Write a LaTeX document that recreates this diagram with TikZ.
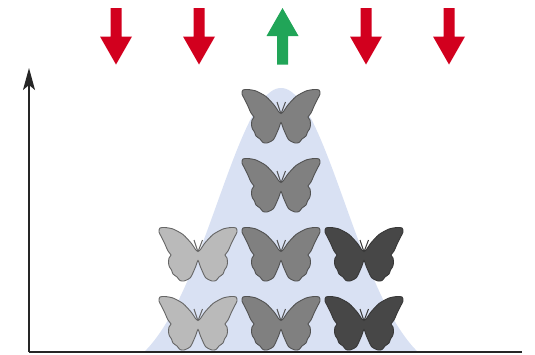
\documentclass[tikz,border=0pt]{standalone}
\usepackage{tikz}
\usetikzlibrary{arrows.meta,positioning,calc}
\definecolor{bellblue}{HTML}{D9E1F3}
\definecolor{downred}{HTML}{D2001E}
\definecolor{upgreen}{HTML}{21A558}
\tikzstyle{axis}=[draw=black!85,line width=1.4pt]
\tikzstyle{lightwing}=[fill=black!27,draw=black!60,line width=0.9pt]
\tikzstyle{midwing}=[fill=black!50,draw=black!68,line width=0.9pt]
\tikzstyle{darkwing}=[fill=black!72,draw=black!78,line width=0.9pt]
\tikzset{
  butterfly/.pic={
    \path[pic actions] plot[smooth cycle,tension=0.4] coordinates {
      (0,0.5) (2.5,-1.5) (6.5,-7.5) (15,-16.5) (25,-22) (33,-23.5) (38,-23) (39,-19) (34,-9) (30,0) (27,4)
      (29,7) (29.5,12) (28.5,16) (26.5,19) (25,23) (21,26) (18,29.5) (14,30) (7.5,26.5) (2.5,16)
      (0,9.5)
      (-2.5,16) (-7.5,26.5) (-14,30) (-18,29.5) (-21,26) (-25,23) (-26.5,19) (-28.5,16) (-29.5,12) (-29,7)
      (-27,4) (-30,0) (-34,-9) (-39,-19) (-38,-23) (-33,-23.5) (-25,-22) (-15,-16.5) (-6.5,-7.5) (-2.5,-1.5)
    };
    \draw[pic actions,fill=none,line width=1pt] (-4,-11) -- (-0.5,-0.5) -- (0.5,-0.5) -- (4.5,-11);
  },
  downarrow/.pic={
    \fill[downred] (-5.5,-28.5) -- (5.5,-28.5) -- (5.5,0) -- (16,0) -- (0,28) -- (-16,0) -- (-5.5,0) -- cycle;
  },
  uparrow/.pic={
    \fill[upgreen] (-5.5,28.5) -- (5.5,28.5) -- (5.5,0) -- (16,0) -- (0,-28) -- (-16,0) -- (-5.5,0) -- cycle;
  }
}

\begin{document}
\begin{tikzpicture}[x=1pt,y=-1pt]
    \useasboundingbox (0,0) rectangle (535,354);
    % the bell curve of the population
    \fill[bellblue] plot[domain=145:417,samples=90,smooth] (\x,{351-263*(exp(-((\x-281)/64)^2/2)-0.105)/0.895}) -- cycle;
    \coordinate (origin) at (29,352);
    \coordinate (ytop) at (29,68);
    \coordinate (xend) at (522,352);
    \draw[axis,-{Stealth[length=22pt,width=12pt,inset=5pt]}] (origin) -- (ytop);
    \draw[axis] (origin) -- (xend);
    % selection arrows
    \foreach \x in {116,199,366,449}
      \pic at (\x,36.5) {downarrow};
    \pic at (282.5,36) {uparrow};
    % butterflies, column by column
    \foreach \y in {113,182,251,320} {
      \pic[midwing] at (281,\y) {butterfly};
    }
    \foreach \y in {251,320} {
      \pic[lightwing] at (198,\y) {butterfly};
      \pic[darkwing] at (364,\y) {butterfly};
    }
\end{tikzpicture}
\end{document}
